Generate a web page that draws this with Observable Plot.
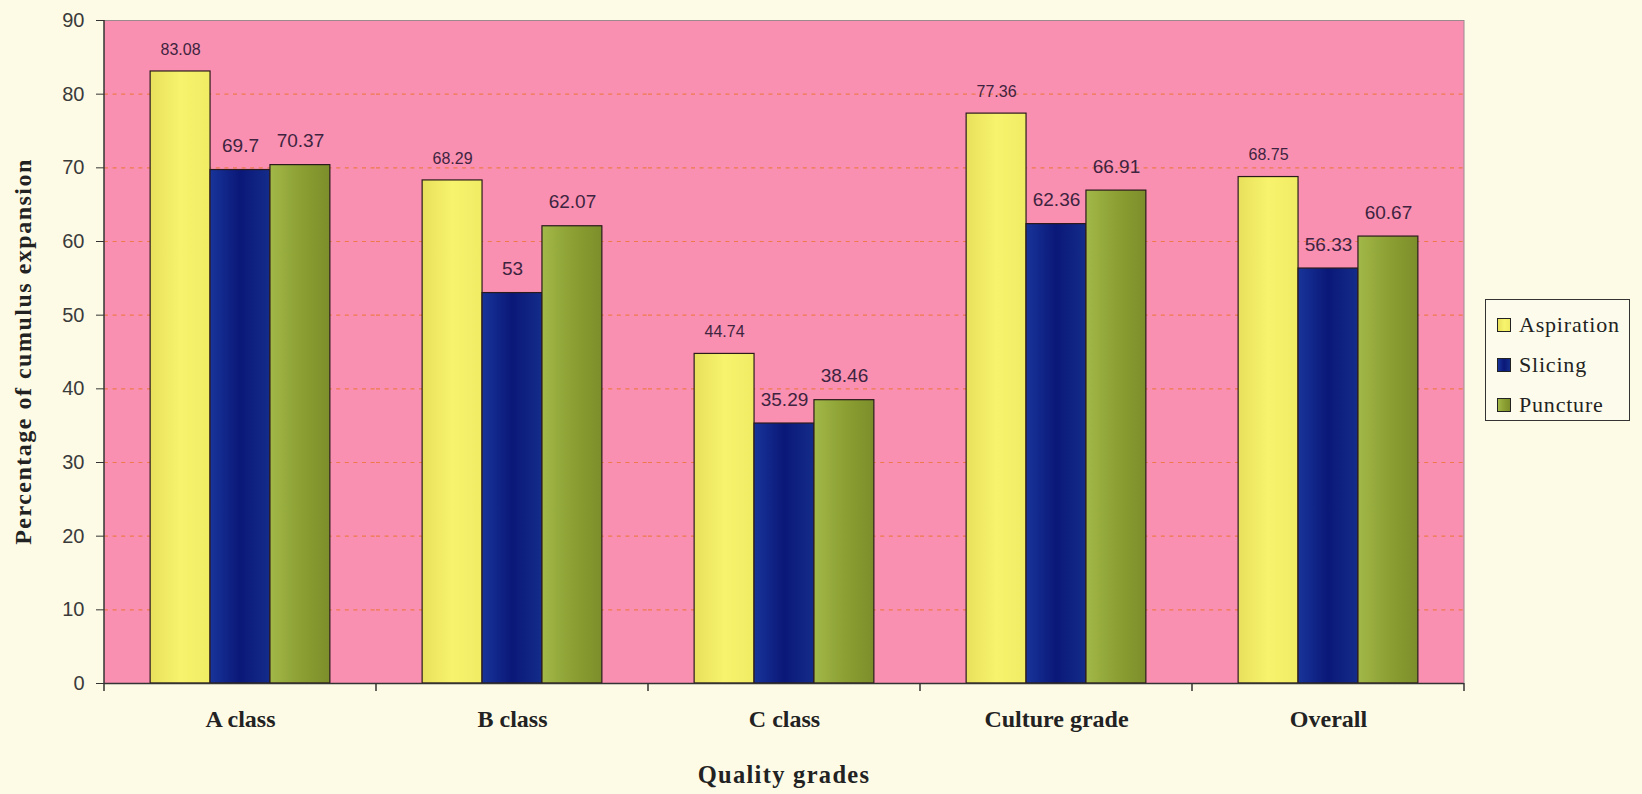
<!DOCTYPE html>
<html>
<head>
<meta charset="utf-8">
<script src="https://cdn.jsdelivr.net/npm/d3@7"></script>
<script src="https://cdn.jsdelivr.net/npm/@observablehq/plot@0.6"></script>
<style>
  body { margin: 0; background: #fdfbe6; }
  #wrap { position: relative; width: 1642px; height: 794px; }
  #legend {
    position: absolute; left: 1485px; top: 299px; width: 145px; height: 122px;
    border: 1.5px solid #333; background: #fdfcec; box-sizing: border-box;
    font-family: "Liberation Serif", "Times New Roman", serif; font-size: 22px; color: #222;
    letter-spacing: 0.8px;
  }
  #legend .row { position: absolute; left: 11px; height: 26px; display: flex; align-items: center; }
  #legend .sw { width: 14px; height: 14px; border: 1px solid #222; margin-right: 8px; box-sizing: border-box; }
</style>
</head>
<body>
<div id="wrap"><div id="chart"></div><div id="legend"></div></div>
<script>
// Quality grades on the x axis, one group of bars per grade
const grades = ["A class", "B class", "C class", "Culture grade", "Overall"];
// Collection methods, one bar each within a group
const methods = ["Aspiration", "Slicing", "Puncture"];
// Percentage of cumulus expansion per method, in grade order
const aspiration = [83.08, 68.29, 44.74, 77.36, 68.75];
const slicing = [69.7, 53, 35.29, 62.36, 56.33];
const puncture = [70.37, 62.07, 38.46, 66.91, 60.67];
// Y axis ticks and gridlines
const yTicks = [0, 10, 20, 30, 40, 50, 60, 70, 80, 90];
const gridTicks = [10, 20, 30, 40, 50, 60, 70, 80];

const seriesValues = {Aspiration: aspiration, Slicing: slicing, Puncture: puncture};

// Shaded fills for each method (left edge, middle, right edge)
const shades = {
  Aspiration: ["#e8e05c", "#f7f36c", "#f0ec64"],
  Slicing: ["#18349a", "#0a1878", "#142c8a"],
  Puncture: ["#a2b848", "#8ca033", "#7c8e2a"]
};
const gradId = m => "fill-" + m.toLowerCase();

const rows = [];
grades.forEach((g, i) => {
  methods.forEach(m => rows.push({grade: g, method: m, value: seriesValues[m][i]}));
});

const W = 1642, H = 794;
const mL = 104, mR = 178, mT = 20, mB = 111;

const labelFont = "Liberation Sans, Arial, sans-serif";
const titleFont = "Liberation Serif, Times New Roman, serif";

const plot = Plot.plot({
  width: W,
  height: H,
  marginLeft: mL,
  marginRight: mR,
  marginTop: mT,
  marginBottom: mB,
  style: {background: "transparent", overflow: "visible"},
  fx: {domain: grades, padding: 0, axis: null, round: false},
  x: {domain: methods, paddingInner: 0, paddingOuter: 0.77, axis: null, round: false},
  y: {domain: [0, 90], axis: null},
  color: {type: "ordinal", domain: methods, range: methods.map(m => `url(#${gradId(m)})`)},
  marks: [
    Plot.ruleY(gridTicks, {stroke: "#ee7a4c", strokeWidth: 1.2, strokeDasharray: "4,4.6"}),
    Plot.ruleY([90], {stroke: "#9a8a90", strokeWidth: 1}),
    Plot.barY(rows, {
      fx: "grade", x: "method", y: "value", fill: "method",
      stroke: "#2a1a1c", strokeWidth: 1.2
    }),
    Plot.ruleY([0], {stroke: "#333", strokeWidth: 1.5}),
    Plot.text(rows.filter(d => d.method === "Aspiration"), {
      fx: "grade", x: "method", y: "value", text: d => String(d.value),
      dy: -22, fontSize: 16, fill: "#3e2440", fontFamily: labelFont
    }),
    Plot.text(rows.filter(d => d.method !== "Aspiration"), {
      fx: "grade", x: "method", y: "value", text: d => String(d.value),
      dy: -24, fontSize: 19, fill: "#3e2440", fontFamily: labelFont
    }),
    Plot.axisY(yTicks, {
      anchor: "left", tickSize: 8, tickPadding: 12, fontSize: 20,
      fontFamily: labelFont, fill: "#3a3a3a", stroke: "#333", label: null
    }),
    Plot.text(grades, {
      fx: d => d, frameAnchor: "bottom", dy: 43, text: d => d,
      fontSize: 24, fontWeight: "bold", fill: "#222",
      fontFamily: titleFont, letterSpacing: 1.4
    })
  ]
});

document.getElementById("chart").appendChild(plot);

const svg = d3.select(plot);

// Gradient definitions for the bar fills
const defs = svg.insert("defs", ":first-child");
methods.forEach(m => {
  const g = defs.append("linearGradient").attr("id", gradId(m))
    .attr("x1", 0).attr("x2", 1).attr("y1", 0).attr("y2", 0);
  shades[m].forEach((c, i) => g.append("stop").attr("offset", i / 2).attr("stop-color", c));
});

// Plot area geometry from the scales
const fx = plot.scale("fx");
const y = plot.scale("y");
const bw = fx.bandwidth;
const edges = grades.map(g => fx.apply(g)).concat([fx.apply(grades[grades.length - 1]) + bw]);
const y0 = y.apply(0), yTop = y.apply(90);
const xLeft = edges[0], xRight = edges[edges.length - 1];

// One continuous pink panel behind all groups
svg.insert("rect", ":scope > g")
  .attr("x", xLeft).attr("y", yTop).attr("width", xRight - xLeft).attr("height", y0 - yTop)
  .attr("fill", "#f990b1");

// Category boundary ticks, y axis line and right border
const over = svg.append("g");
edges.forEach(x => {
  over.append("line").attr("x1", x).attr("x2", x).attr("y1", y0).attr("y2", y0 + 8)
    .attr("stroke", "#333").attr("stroke-width", 1.5);
});
over.append("line").attr("x1", xLeft).attr("x2", xLeft).attr("y1", yTop).attr("y2", y0)
  .attr("stroke", "#333").attr("stroke-width", 1.5);
over.append("line").attr("x1", xRight).attr("x2", xRight)
  .attr("y1", yTop).attr("y2", y0).attr("stroke", "#9a8a90").attr("stroke-width", 1);

// Axis titles
over.append("text")
  .attr("transform", `translate(25,${(yTop + y0) / 2}) rotate(-90)`)
  .attr("text-anchor", "middle").attr("dominant-baseline", "middle")
  .attr("font-family", titleFont).attr("font-weight", "bold").attr("font-size", 24)
  .attr("letter-spacing", 1.5).attr("fill", "#222")
  .text("Percentage of cumulus expansion");
over.append("text")
  .attr("x", (xLeft + xRight) / 2).attr("y", 777)
  .attr("text-anchor", "middle").attr("dominant-baseline", "middle")
  .attr("font-family", titleFont).attr("font-weight", "bold").attr("font-size", 24.5)
  .attr("letter-spacing", 1.3).attr("fill", "#222")
  .text("Quality grades");

// Legend
const legend = d3.select("#legend");
methods.forEach((m, i) => {
  const row = legend.append("div").attr("class", "row").style("top", (12 + i * 40) + "px");
  row.append("div").attr("class", "sw")
    .style("background", `linear-gradient(to right, ${shades[m].join(",")})`);
  row.append("span").text(m);
});
</script>
</body>
</html>
